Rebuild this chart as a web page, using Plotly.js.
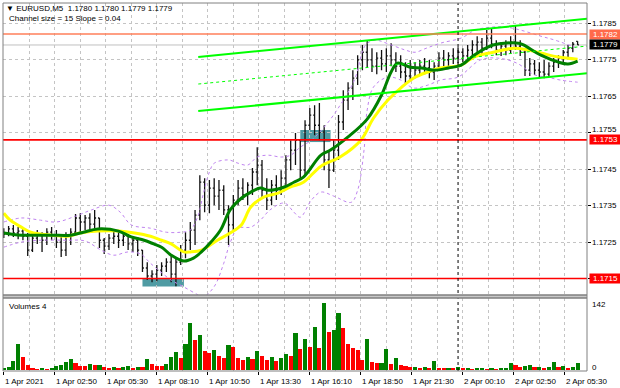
<!DOCTYPE html>
<html><head><meta charset="utf-8">
<script src="https://cdn.plot.ly/plotly-3.0.1.min.js"></script>
<style>html,body{margin:0;padding:0;background:#fff;}#chart{width:620px;height:388px;}</style>
</head><body><div id="chart"></div>
<script>
// ---- data (bar index = M5 bar number from 1 Apr 00:00) ----
const barIdx = [0,3,6,9,12,15,18,21,24,27,30,33,36,39,42,45,48,51,54,57,60,63,66,69,72,75,78,81,84,87,90,93,96,99,102,105,108,111,114,117,120,123,126,129,132,135,138,141,144,147,150,153,156,159,162,165,168,171,174,177,180,183,186,189,192,195,198,201,204,207,210,213,216,219,222,225,228,231,234,237,240,243,246,249,252,255,258,261,264,267,270,273,276,279,282,285,288,291,294,297,300,303,306,309,312,315,318,321,324,327,330,333,336,339,342,345,348,351,354,357,360];
const openP = [
1.17277,1.17272,1.17286,1.17275,1.1728,1.17266,1.17228,1.17261,1.17272,1.17255,
1.17277,1.17266,1.1725,1.17228,1.17266,1.17277,1.17316,1.17305,1.17316,1.17299,
1.17316,1.17255,1.17239,1.17261,1.17266,1.17255,1.17266,1.17245,1.17255,1.17228,
1.17179,1.17157,1.17162,1.17173,1.17184,1.17195,1.17162,1.17195,1.17228,1.17255,
1.17283,1.17324,1.17414,1.17351,1.17398,1.17376,1.17392,1.17338,1.17297,1.17365,
1.17398,1.17379,1.17406,1.17442,1.17461,1.17392,1.17365,1.17406,1.17392,1.17425,
1.17475,1.17502,1.17529,1.17447,1.1757,1.17598,1.1757,1.17551,1.17475,1.17447,
1.17502,1.17579,1.17639,1.17672,1.17699,1.17749,1.1777,1.17749,1.17732,1.17754,
1.17738,1.1776,1.17749,1.17732,1.17716,1.17705,1.17727,1.17721,1.17732,1.17727,
1.17716,1.17732,1.17754,1.17749,1.1776,1.17754,1.1777,1.1776,1.17776,1.1779,
1.17798,1.17781,1.17809,1.17792,1.17776,1.17787,1.17776,1.17798,1.17787,1.1777,
1.17721,1.17738,1.17721,1.17716,1.1771,1.17732,1.17743,1.17754,1.1777,1.17781,
1.1780];
const highP = [
1.17288,1.17294,1.17297,1.17291,1.17288,1.17275,1.17269,1.17283,1.17277,1.17288,
1.17291,1.17283,1.17266,1.17277,1.17288,1.17327,1.17329,1.17324,1.17329,1.17338,
1.17316,1.17261,1.17272,1.17283,1.17277,1.17275,1.17272,1.17266,1.17264,1.17228,
1.17195,1.17173,1.17187,1.17195,1.17206,1.17214,1.17206,1.17242,1.17277,1.17305,
1.17338,1.17433,1.17425,1.1742,1.17425,1.1742,1.17406,1.17351,1.17379,1.1742,
1.17425,1.17414,1.17453,1.1751,1.17475,1.17425,1.1742,1.17433,1.17447,1.17488,
1.17529,1.17549,1.17529,1.17584,1.17617,1.17625,1.17631,1.1757,1.17502,1.17529,
1.17598,1.17666,1.17688,1.17721,1.17762,1.1779,1.17803,1.17781,1.1777,1.17776,
1.17781,1.17795,1.1777,1.17762,1.17743,1.17749,1.17743,1.17749,1.17754,1.17749,
1.17743,1.1777,1.17776,1.1777,1.17781,1.17784,1.17781,1.1779,1.17803,1.17814,
1.17809,1.17831,1.17836,1.17803,1.17798,1.17803,1.17814,1.17845,1.17803,1.17776,
1.17754,1.17749,1.17743,1.17749,1.17743,1.17754,1.17762,1.17776,1.1779,1.17798,
1.1780];
const lowP = [
1.17261,1.17266,1.17264,1.17258,1.17255,1.17212,1.17223,1.17245,1.17223,1.17242,
1.17255,1.17234,1.17209,1.17212,1.17242,1.17269,1.17277,1.17283,1.17277,1.17288,
1.17234,1.17217,1.17228,1.17245,1.17234,1.17239,1.17228,1.17223,1.17212,1.17168,
1.17146,1.1714,1.17143,1.17157,1.17168,1.1714,1.17129,1.17187,1.17206,1.17228,
1.17242,1.1731,1.17332,1.17329,1.17351,1.17338,1.17324,1.17242,1.17283,1.17351,
1.17365,1.17351,1.17379,1.17406,1.1737,1.17338,1.17351,1.17365,1.17379,1.17406,
1.17447,1.17461,1.1742,1.17433,1.17557,1.17543,1.17529,1.17447,1.17398,1.17442,
1.17475,1.17557,1.17612,1.17639,1.1768,1.17721,1.17727,1.17716,1.1771,1.17721,
1.17716,1.17732,1.17716,1.17699,1.17683,1.17694,1.17699,1.17705,1.1771,1.17699,
1.17694,1.17721,1.17732,1.17727,1.17738,1.1774,1.17743,1.17749,1.1776,1.1777,
1.17765,1.17776,1.17781,1.17762,1.1776,1.17762,1.17765,1.17776,1.1776,1.17705,
1.17705,1.17708,1.17699,1.17699,1.17702,1.17716,1.17727,1.17738,1.17754,1.1777,
1.1779];
const closeP = [
1.17272,1.17286,1.17275,1.1728,1.17266,1.17228,1.17261,1.17272,1.17255,1.17277,
1.17266,1.1725,1.17228,1.17266,1.17277,1.17316,1.17305,1.17316,1.17299,1.17316,
1.17255,1.17239,1.17261,1.17266,1.17255,1.17266,1.17245,1.17255,1.17228,1.17179,
1.17157,1.17162,1.17173,1.17184,1.17195,1.17162,1.17195,1.17228,1.17255,1.17283,
1.17324,1.17414,1.17351,1.17398,1.17376,1.17392,1.17338,1.17297,1.17365,1.17398,
1.17379,1.17406,1.17442,1.17461,1.17392,1.17365,1.17406,1.17392,1.17425,1.17475,
1.17502,1.17529,1.17447,1.1757,1.17598,1.1757,1.17551,1.17475,1.17447,1.17502,
1.17579,1.17639,1.17672,1.17699,1.17749,1.1777,1.17749,1.17732,1.17754,1.17738,
1.1776,1.17749,1.17732,1.17716,1.17705,1.17727,1.17721,1.17732,1.17727,1.17716,
1.17732,1.17754,1.17749,1.1776,1.17754,1.1777,1.1776,1.17776,1.1779,1.17798,
1.17781,1.17809,1.17792,1.17776,1.17787,1.17776,1.17798,1.17787,1.1777,1.17721,
1.17738,1.17721,1.17716,1.1771,1.17732,1.17743,1.17754,1.1777,1.17781,1.17792,
1.1779];
const volumes = [
5,6,20,56,28,11,4,3,4,3,
5,8,10,18,23,14,9,8,12,10,
11,6,5,7,5,6,8,5,7,6,
23,12,9,8,12,28,39,25,56,99,
64,74,40,36,42,30,25,53,48,26,
22,28,24,41,30,22,28,20,26,33,
30,79,45,65,48,92,46,142,81,85,
121,88,55,46,42,22,65,18,15,16,
44,13,25,10,9,6,7,5,6,5,
20,5,4,5,4,6,4,5,3,4,
5,3,4,3,4,5,16,10,6,8,
10,6,7,5,6,18,6,8,5,7,
16];
// moving averages
const greenIdx = [0,11,30,42,50,59,72,80,88,94,99,105,113,119,124,130,136,142,149,155,161,166,176,182,188,199,205,216,228,237,243,247,255,262,270,279,287,295,307,323,326,337,348,354,360];
const greenVal = [1.17275,1.17269,1.17269,1.17269,1.17277,1.17286,1.1728,1.17264,1.17255,1.17245,1.17236,1.17214,1.17198,1.17206,1.17223,1.1725,1.17283,1.17338,1.1737,1.17387,1.17398,1.17392,1.17401,1.17414,1.17428,1.17488,1.17502,1.17538,1.17587,1.17653,1.17716,1.1774,1.17729,1.17727,1.17721,1.17727,1.17735,1.17762,1.1779,1.17795,1.1779,1.17762,1.17743,1.17738,1.17746];
const yellowIdx = [0,4,11,17,30,40,48,59,72,82,92,99,105,113,117,124,134,142,149,155,163,172,180,188,199,211,224,232,241,249,257,266,274,287,295,307,320,329,337,348,360];
const yellowVal = [1.17329,1.1731,1.17291,1.17277,1.17269,1.17266,1.17275,1.1728,1.1728,1.17275,1.17266,1.17255,1.17245,1.17223,1.17223,1.17228,1.17255,1.17275,1.17297,1.17346,1.17373,1.17384,1.17401,1.17414,1.17458,1.17483,1.17529,1.1759,1.17639,1.17672,1.17699,1.17716,1.17727,1.17735,1.17757,1.1777,1.17781,1.17776,1.17768,1.17757,1.17751];
// envelope bands
const upIdx = [0,11,23,33,45,55,66,73,80,92,102,111,117,122,125,129,132,141,147,153,159,166,174,180,186,193,202,211,220,227,233,243,252,258,265,274,287,296,306,315,324,337,346,360];
const upVal = [1.17305,1.17316,1.1731,1.17305,1.17321,1.17338,1.17351,1.17332,1.17297,1.17288,1.17277,1.17277,1.17283,1.17324,1.17379,1.17442,1.17466,1.17475,1.17466,1.17461,1.17483,1.17488,1.17483,1.17488,1.1751,1.17529,1.1757,1.17625,1.17694,1.1779,1.17803,1.1779,1.17776,1.1777,1.17781,1.17795,1.17809,1.17831,1.17839,1.17839,1.17831,1.17814,1.17803,1.17781];
const loIdx = [0,11,23,39,51,61,69,78,86,92,105,113,122,125,132,138,142,147,155,161,167,176,182,186,193,199,207,218,222,226,228,232,241,249,257,266,274,285,299,310,322,333,341,349,360];
const loVal = [1.17236,1.1725,1.17255,1.17255,1.17253,1.17228,1.17214,1.17223,1.17217,1.17192,1.17146,1.17127,1.17105,1.17099,1.17128,1.17192,1.17248,1.17288,1.17291,1.1731,1.17338,1.17357,1.17332,1.17318,1.17365,1.17387,1.17376,1.17359,1.17392,1.17502,1.17612,1.17675,1.17702,1.17694,1.17672,1.1768,1.17694,1.17702,1.17749,1.17754,1.1774,1.17708,1.17702,1.17694,1.17688];
// regression channel
const chanIdx = [122, 367];
const chanUpper = [1.17757, 1.17862];
const chanLower = [1.17609, 1.17713];
const chanMid = [1.17683, 1.177875];
// levels & zones
const redLevels = [1.1753, 1.1715];
const coralLevel = 1.1782;
const bidLevel = 1.1779;
const zoneX0 = [87, 186], zoneX1 = [113, 205];
const zoneY0 = [1.17128, 1.17524], zoneY1 = [1.1715, 1.17557];
const daySep = 285;
const priceTicks = [1.1725, 1.1735, 1.1745, 1.1755, 1.1765, 1.1775, 1.1785];
const timeTickIdx = [0,32,64,96,128,160,192,224,256,288,320,352];
const timeTickText = ['1 Apr 2021','1 Apr 02:50','1 Apr 05:30','1 Apr 08:10','1 Apr 10:50','1 Apr 13:30','1 Apr 16:10','1 Apr 18:50','1 Apr 21:30','2 Apr 00:10','2 Apr 02:50','2 Apr 05:30'];
const volMax = 142;

// ---- layout helpers (pixel -> paper) ----
const F = 'Liberation Sans, Arial, sans-serif';
const py = Y => (371 - Y) / 368;
const px = X => (X - 3) / 584;
const mainBottom = py(295), volTop = py(298);
const GRID = '#c4c4c4';

const volColors = volumes.map((v,i)=> (i===0 || v > volumes[i-1]) ? '#008000' : '#ff0000');

const traces = [
  {type:'scatter', mode:'lines', x:upIdx, y:upVal, line:{color:'#c084f0', width:1, dash:'dot', shape:'spline'}, hoverinfo:'skip'},
  {type:'scatter', mode:'lines', x:loIdx, y:loVal, line:{color:'#c084f0', width:1, dash:'dot', shape:'spline'}, hoverinfo:'skip'},
  {type:'ohlc', x:barIdx, open:openP, high:highP, low:lowP, close:closeP,
   increasing:{line:{color:'#111', width:1.3}}, decreasing:{line:{color:'#111', width:1.3}}, tickwidth:0.3, hoverinfo:'skip'},
  {type:'scatter', mode:'lines', x:yellowIdx, y:yellowVal, line:{color:'#ffff00', width:3, shape:'spline'}, hoverinfo:'skip'},
  {type:'scatter', mode:'lines', x:greenIdx, y:greenVal, line:{color:'#008000', width:3, shape:'spline'}, hoverinfo:'skip'},
  {type:'scatter', mode:'lines', x:chanIdx, y:chanUpper, line:{color:'#00ff00', width:2}, hoverinfo:'skip'},
  {type:'scatter', mode:'lines', x:chanIdx, y:chanLower, line:{color:'#00ff00', width:2}, hoverinfo:'skip'},
  {type:'scatter', mode:'lines', x:chanIdx, y:chanMid, line:{color:'#00ff00', width:1, dash:'dot'}, hoverinfo:'skip'},
  {type:'bar', x:barIdx, y:volumes, xaxis:'x', yaxis:'y2', width:2.6, marker:{color:volColors, line:{width:0}}, hoverinfo:'skip'}
];

const shapes = [];
zoneX0.forEach((x0,k)=>shapes.push({type:'rect', xref:'x', yref:'y', x0:x0, x1:zoneX1[k], y0:zoneY0[k], y1:zoneY1[k], fillcolor:'#4f9ba3', line:{width:0}, layer:'below'}));
shapes.push({type:'line', xref:'paper', yref:'y', x0:0, x1:1, y0:bidLevel, y1:bidLevel, line:{color:'#c0c0c0', width:1}, layer:'below'});
shapes.push({type:'line', xref:'paper', yref:'y', x0:0, x1:1, y0:coralLevel, y1:coralLevel, line:{color:'#ff7f5a', width:1.6}});
redLevels.forEach(l=>shapes.push({type:'line', xref:'paper', yref:'y', x0:0, x1:1, y0:l, y1:l, line:{color:'#ff0000', width:1.6}}));
shapes.push({type:'line', xref:'x', yref:'paper', x0:daySep, x1:daySep, y0:0, y1:1, line:{color:'#000', width:1, dash:'dot'}});
shapes.push({type:'rect', xref:'paper', yref:'paper', x0:0, x1:1, y0:volTop, y1:mainBottom, fillcolor:'#c8c8c8', line:{color:'#808080', width:1}});
shapes.push({type:'rect', xref:'paper', yref:'paper', x0:0, x1:1, y0:mainBottom, y1:1, line:{color:'#808080', width:1}});
shapes.push({type:'rect', xref:'paper', yref:'paper', x0:0, x1:1, y0:0, y1:volTop, line:{color:'#808080', width:1}});

const ann = [];
const txt = (x,y,t,opt={}) => Object.assign({xref:'paper', yref:'paper', x:x, y:y, text:t, showarrow:false, xanchor:'left', yanchor:'middle', font:{family:F, size:8, color:'#000'}, borderpad:0}, opt);
ann.push(txt(px(5), py(8), '▼ EURUSD,M5  1.1780 1.1780 1.1779 1.1779'));
ann.push(txt(px(8), py(19), 'Channel size = 15 Slope = 0.04'));
ann.push(txt(px(8), py(306), 'Volumes 4'));
ann.push(txt(1, py(304), String(volMax), {xshift:4}));
ann.push(txt(1, py(367), '0', {xshift:4}));
// price axis labels (1.1755 nudged up as the terminal does next to the 1.1753 marker)
priceTicks.forEach(p=>ann.push({xref:'paper', yref:'y', x:1, y:p, text:p.toFixed(4), showarrow:false, xanchor:'left', yanchor:'middle', xshift:4, yshift:(p===1.1755?3:0), font:{family:F, size:8, color:'#000'}, borderpad:0}));
timeTickIdx.forEach((v,k)=>ann.push({xref:'x', yref:'paper', x:v, y:py(381), text:timeTickText[k], showarrow:false, xanchor:'left', yanchor:'middle', font:{family:F, size:8, color:'#000'}, borderpad:0}));
const box = (lvl, bg) => ({xref:'paper', yref:'y', x:1, y:lvl, xanchor:'left', yanchor:'middle', xshift:2, text:lvl.toFixed(4), showarrow:false, bgcolor:bg, font:{family:F, size:8, color:'#fff'}, width:30, height:8, borderpad:0.5});
ann.push(box(coralLevel, '#ff6a4a'));
ann.push(box(bidLevel, '#000000'));
redLevels.forEach(l=>ann.push(box(l, '#ff0000')));

const layout = {
  width:620, height:388, margin:{l:3, r:33, t:3, b:17}, paper_bgcolor:'#fff', plot_bgcolor:'#fff',
  showlegend:false, bargap:0,
  xaxis:{domain:[0,1], range:[-0.5,365.9], anchor:'y2', tickmode:'array', tickvals:timeTickIdx, showticklabels:false,
    ticks:'outside', ticklen:3, tickcolor:'#000', showgrid:true, gridcolor:GRID, griddash:'3px,3px', gridwidth:1, zeroline:false,
    minor:{tickmode:'linear', tick0:16, dtick:32, showgrid:true, gridcolor:GRID, griddash:'3px,3px', ticks:''},
    rangeslider:{visible:false}, fixedrange:true},
  yaxis:{domain:[mainBottom,1], range:[1.17105,1.17905], side:'right', tickmode:'linear', tick0:1.1715, dtick:0.001,
    showticklabels:false, ticks:'outside', ticklen:3, tickcolor:'#000', showgrid:true, gridcolor:GRID, griddash:'3px,3px', zeroline:false, fixedrange:true},
  yaxis2:{domain:[0,volTop], range:[-2,152.5], showgrid:false, showticklabels:false, zeroline:false, ticks:'', fixedrange:true},
  shapes:shapes, annotations:ann
};
Plotly.newPlot('chart', traces, layout, {staticPlot:true, displayModeBar:false});
</script></body></html>
